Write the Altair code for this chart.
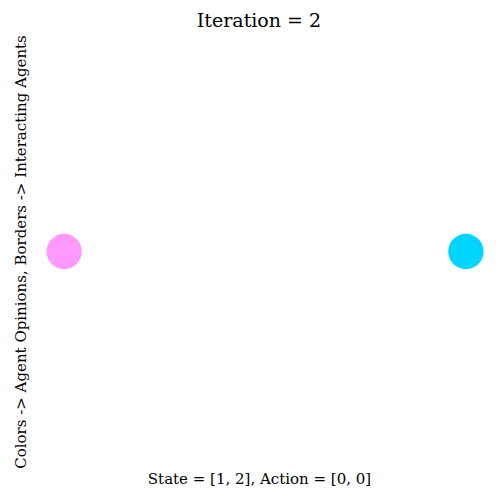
import pandas as pd
import altair as alt

agent = [1, 2]
xpos = [0, 1]
ypos = [0, 0]
colors = ["#ff99ff", "#00d5ff"]

df = pd.DataFrame({"agent": agent, "x": xpos, "y": ypos, "color": colors})

font = "DejaVu Serif"
noaxis = dict(labels=False, ticks=False, domain=False, grid=False,
              titleFont=font, titleFontSize=15, titleFontWeight="normal", titleColor="black")

chart = (
    alt.Chart(df)
    .mark_circle(size=1250, opacity=1)
    .encode(
        alt.X("x:Q", scale=alt.Scale(domain=[-0.08, 1.05]),
              axis=alt.Axis(title="State = [1, 2], Action = [0, 0]", **noaxis)),
        alt.Y("y:Q", scale=alt.Scale(domain=[-1, 1]),
              axis=alt.Axis(title="Colors -> Agent Opinions, Borders -> Interacting Agents", **noaxis)),
        alt.Color("color:N", scale=None),
    )
    .properties(
        width=483, height=483,
        autosize=alt.AutoSizeParams(type="fit", contains="padding"),
        title=alt.Title("Iteration = 2", font=font, fontSize=19, fontWeight="normal"),
    )
    .configure_view(stroke=None)
)

chart.save("out.html", embed_options={"renderer": "svg", "actions": False})
